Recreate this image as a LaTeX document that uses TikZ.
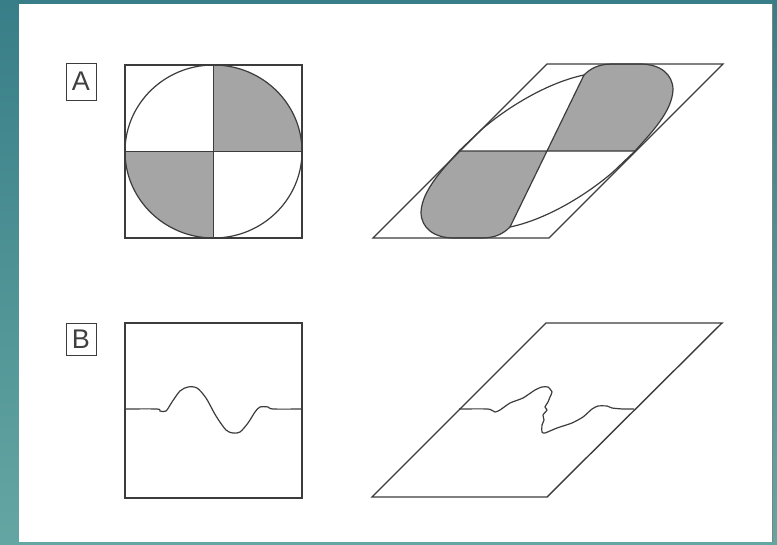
\documentclass[tikz,border=0pt]{standalone}
\usepackage{fontspec}
\setsansfont{Liberation Sans}
\usepackage{tikz}
\usetikzlibrary{positioning}
\definecolor{tealbg}{RGB}{56,126,136}
\definecolor{tealbglight}{RGB}{100,166,162}
\definecolor{linegray}{RGB}{60,60,60}
\definecolor{quadgray}{RGB}{165,165,165}

\begin{document}
\begin{tikzpicture}[x=1pt,y=-1pt,
  frame/.style={draw=linegray,line width=1.4pt},
  outline/.style={draw=linegray,line width=1.2pt},
  quad/.style={fill=quadgray},
  tag/.style={draw=linegray,line width=1pt,inner sep=0pt,minimum width=30pt,
    font=\sffamily\fontsize{27}{27}\selectfont,text=black!75}]
  \useasboundingbox (0,0) rectangle (777,544);
  \shade[top color=tealbg,bottom color=tealbglight] (0,0) rectangle (777,544);
  \fill[white] (19,4) rectangle (772,542);
  \draw[black!50,line width=0.8pt] (772,4) -- (772,542);

  % panel labels
  \node[tag,minimum height=37pt] (labA) at (81,81.5) {A};
  \node[tag,minimum height=32pt] (labB) at (81,339) {B};

  % A: circle in square
  \begin{scope}
    \clip (213.5,151.5) ellipse[x radius=88.5,y radius=86.5];
    \fill[quad] (213.5,65) rectangle (302,151.5);
    \fill[quad] (125,151.5) rectangle (213.5,238);
  \end{scope}
  \draw[outline] (213.5,151.5) ellipse[x radius=88.5,y radius=86.5];
  \draw[outline] (125,151.5) -- (302,151.5) (213.5,65) -- (213.5,238);
  \draw[frame] (125,65) rectangle (302,238);

  % A: after shear
  \coordinate (ctr) at (547,151);
  \coordinate (lft) at (459,151);
  \coordinate (rgt) at (635,151);
  \coordinate (tp) at (584,75);
  \coordinate (bt) at (510,227);
  \fill[quad] (ctr) -- (rgt) .. controls (650,134) and (672,112) .. (673,90)
    .. controls (673,74) and (660,64) .. (640,64) -- (612,64)
    .. controls (598,64) and (590,69) .. (tp) -- cycle;
  \fill[quad] (ctr) -- (lft) .. controls (444,168) and (422,190) .. (421,212)
    .. controls (421,228) and (434,238) .. (454,238) -- (482,238)
    .. controls (496,238) and (504,233) .. (bt) -- cycle;
  \draw[outline] (rgt) .. controls (650,134) and (672,112) .. (673,90)
    .. controls (673,74) and (660,64) .. (640,64) -- (612,64)
    .. controls (598,64) and (590,69) .. (tp)
    .. controls (550,82) and (510,105) .. (481,130)
    .. controls (470,140) .. (lft)
    .. controls (444,168) and (422,190) .. (421,212)
    .. controls (421,228) and (434,238) .. (454,238) -- (482,238)
    .. controls (496,238) and (504,233) .. (bt)
    .. controls (544,220) and (584,197) .. (613,172)
    .. controls (624,162) .. (rgt);
  \draw[outline] (lft) -- (rgt) (tp) -- (bt);
  \draw[frame] (373,238) -- (549,238) -- (723,64) -- (547,64) -- cycle;

  % B: wave in square
  \draw[frame] (125,323) rectangle (302,498);
  \draw[outline] plot[smooth,tension=0.5] coordinates {(125,409) (157,409) (160,411)
    (166,411) (172,402) (180,391) (188,387) (197,388) (206,398) (216,416) (226,430)
    (233,433) (240,432) (248,423) (255,412) (260,407) (268,407) (273,409) (302,409)};

  % B: after shear
  \draw[frame] (372,497) -- (547,497) -- (722,323) -- (546,323) -- cycle;
  \draw[outline] plot[smooth,tension=0.35] coordinates {(459,409) (488,409) (495,412)
    (500,410) (510,403) (523,398) (535,390) (542,387) (548,387) (552,392) (550,397)
    (548,402) (545,407) (547,410) (543,415) (544,420) (542,425) (542,432) (545,433)
    (557,428) (572,423) (583,417) (592,409) (598,406) (607,406) (612,408) (623,409)
    (634,409)};
\end{tikzpicture}
\end{document}
